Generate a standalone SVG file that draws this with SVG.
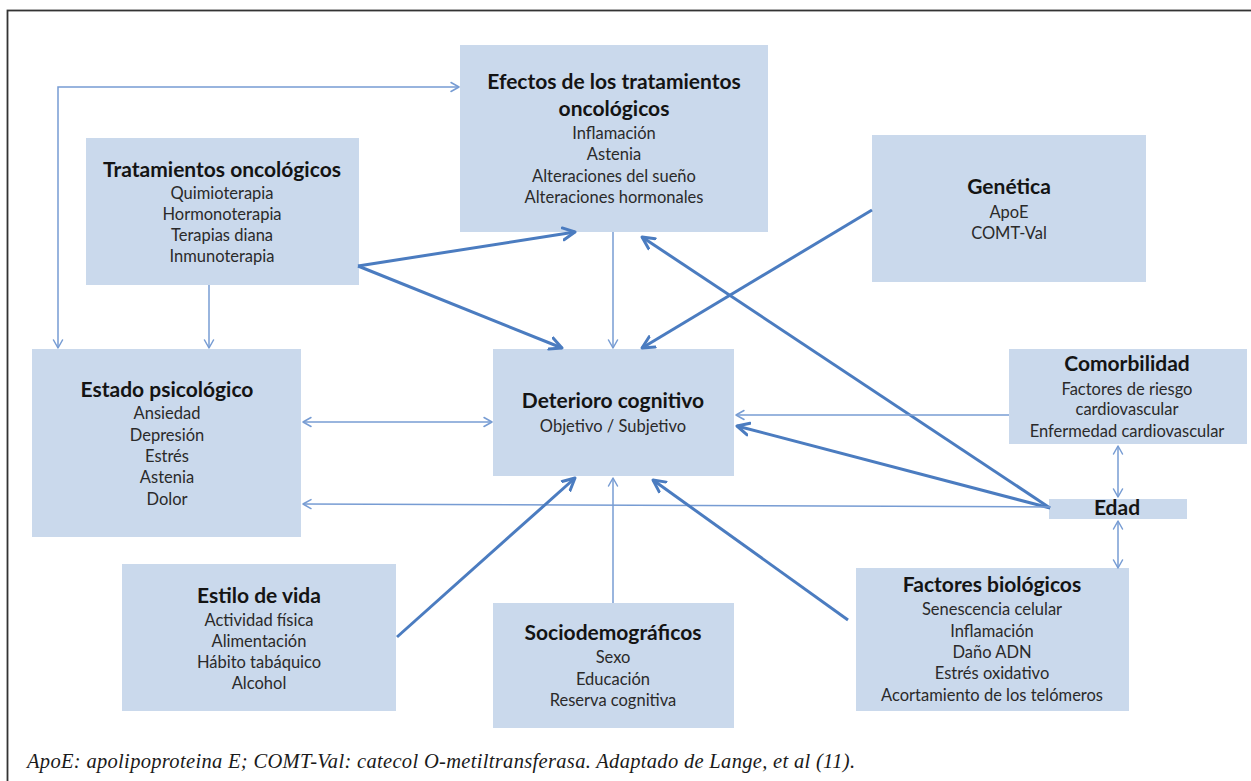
<svg xmlns="http://www.w3.org/2000/svg" width="1251" height="781" viewBox="0 0 1251 781">
<style>
.box{fill:#cad9ec}
.t{font-family:Lato,"Open Sans","Liberation Sans",sans-serif;font-weight:bold;font-size:21px;fill:#141414;text-anchor:middle}
.i{font-family:Lato,"Open Sans","Liberation Sans",sans-serif;font-size:16.5px;fill:#2a2a2a;text-anchor:middle}
.thick{fill:none;stroke:#4b7cc0;stroke-width:3}
.thin{fill:none;stroke:#779cd3;stroke-width:1.5}
.cap{font-family:"Liberation Serif","Times New Roman",serif;font-style:italic;font-size:20.5px;fill:#1a1a1a}
</style>
<defs>
<marker id="ak" markerUnits="userSpaceOnUse" markerWidth="16" markerHeight="16" refX="13" refY="7" orient="auto-start-reverse" viewBox="0 0 16 14">
<path d="M1,1 L13,7 L1,13" fill="none" stroke="#4b7cc0" stroke-width="3" stroke-linecap="round" stroke-linejoin="round"/>
</marker>
<marker id="an" markerUnits="userSpaceOnUse" markerWidth="12" markerHeight="12" refX="9" refY="5" orient="auto-start-reverse" viewBox="0 0 12 10">
<path d="M1,0.5 L9,5 L1,9.5" fill="none" stroke="#779cd3" stroke-width="1.5" stroke-linecap="round" stroke-linejoin="round"/>
</marker>
</defs>
<rect x="0" y="0" width="1251" height="781" fill="#ffffff"/>
<rect x="7.5" y="10.5" width="1260" height="800" fill="none" stroke="#333333" stroke-width="1.8"/>

<g id="n-tratamientos">
<rect class="box" x="86" y="138" width="273" height="147"/>
<text class="t" x="222" y="177">Tratamientos oncológicos</text>
<text class="i" x="222" y="199">Quimioterapia</text>
<text class="i" x="222" y="220">Hormonoterapia</text>
<text class="i" x="222" y="241">Terapias diana</text>
<text class="i" x="222" y="262">Inmunoterapia</text>
</g>
<g id="n-efectos">
<rect class="box" x="460" y="45" width="308" height="187"/>
<text class="t" x="614" y="89">Efectos de los tratamientos</text>
<text class="t" x="614" y="116">oncológicos</text>
<text class="i" x="614" y="139">Inflamación</text>
<text class="i" x="614" y="160">Astenia</text>
<text class="i" x="614" y="182">Alteraciones del sueño</text>
<text class="i" x="614" y="203">Alteraciones hormonales</text>
</g>
<g id="n-genetica">
<rect class="box" x="872" y="135" width="274" height="147"/>
<text class="t" x="1009" y="194">Genética</text>
<text class="i" x="1009" y="218">ApoE</text>
<text class="i" x="1009" y="239">COMT-Val</text>
</g>
<g id="n-comorbilidad">
<rect class="box" x="1009" y="349" width="238" height="95"/>
<text class="t" x="1127" y="371">Comorbilidad</text>
<text class="i" x="1127" y="395">Factores de riesgo</text>
<text class="i" x="1127" y="415">cardiovascular</text>
<text class="i" x="1127" y="437">Enfermedad cardiovascular</text>
</g>
<g id="n-edad">
<rect class="box" x="1049" y="499" width="138" height="20"/>
<text class="t" x="1117" y="515">Edad</text>
</g>
<g id="n-estado">
<rect class="box" x="32" y="349" width="269" height="188"/>
<text class="t" x="167" y="397">Estado psicológico</text>
<text class="i" x="167" y="419">Ansiedad</text>
<text class="i" x="167" y="441">Depresión</text>
<text class="i" x="167" y="462">Estrés</text>
<text class="i" x="167" y="483">Astenia</text>
<text class="i" x="167" y="505">Dolor</text>
</g>
<g id="n-deterioro">
<rect class="box" x="493" y="349" width="241" height="127"/>
<text class="t" x="613" y="408">Deterioro cognitivo</text>
<text class="i" x="613" y="432">Objetivo / Subjetivo</text>
</g>
<g id="n-estilo">
<rect class="box" x="122" y="564" width="274" height="147"/>
<text class="t" x="259" y="603">Estilo de vida</text>
<text class="i" x="259" y="626">Actividad física</text>
<text class="i" x="259" y="647">Alimentación</text>
<text class="i" x="259" y="668">Hábito tabáquico</text>
<text class="i" x="259" y="689">Alcohol</text>
</g>
<g id="n-socio">
<rect class="box" x="493" y="603" width="241" height="125"/>
<text class="t" x="613" y="640">Sociodemográficos</text>
<text class="i" x="613" y="663">Sexo</text>
<text class="i" x="613" y="685">Educación</text>
<text class="i" x="613" y="706">Reserva cognitiva</text>
</g>
<g id="n-factores">
<rect class="box" x="856" y="568" width="273" height="143"/>
<text class="t" x="992" y="592">Factores biológicos</text>
<text class="i" x="992" y="615">Senescencia celular</text>
<text class="i" x="992" y="637">Inflamación</text>
<text class="i" x="992" y="658">Daño ADN</text>
<text class="i" x="992" y="679">Estrés oxidativo</text>
<text class="i" x="992" y="701">Acortamiento de los telómeros</text>
</g>

<g id="connectors">
<path class="thin" d="M58,348 L58,87 L459,87" marker-start="url(#an)" marker-end="url(#an)"/>
<path class="thin" d="M209,285 L209,348" marker-end="url(#an)"/>
<path class="thick" d="M358,266 L575,232" marker-end="url(#ak)"/>
<path class="thick" d="M358,266 L562,348" marker-end="url(#ak)"/>
<path class="thin" d="M613,232 L613,348" marker-end="url(#an)"/>
<path class="thick" d="M872,210 L642,348" marker-end="url(#ak)"/>
<path class="thick" d="M1050,508 L642,237" marker-end="url(#ak)"/>
<path class="thick" d="M1050,508 L737,426" marker-end="url(#ak)"/>
<path class="thin" d="M1009,415 L736,415" marker-end="url(#an)"/>
<path class="thin" d="M1050,507 L303,504" marker-end="url(#an)"/>
<path class="thin" d="M303,422 L492,422" marker-start="url(#an)" marker-end="url(#an)"/>
<path class="thin" d="M1118,446 L1118,497" marker-start="url(#an)" marker-end="url(#an)"/>
<path class="thin" d="M1118,521 L1118,568" marker-start="url(#an)" marker-end="url(#an)"/>
<path class="thick" d="M397,637 L575,478" marker-end="url(#ak)"/>
<path class="thin" d="M613,603 L613,478" marker-end="url(#an)"/>
<path class="thick" d="M848,620 L653,480" marker-end="url(#ak)"/>
</g>

<text class="cap" x="27" y="768" textLength="828" lengthAdjust="spacing">ApoE: apolipoproteina E; COMT-Val: catecol O-metiltransferasa. Adaptado de Lange, et al (11).</text>
</svg>
